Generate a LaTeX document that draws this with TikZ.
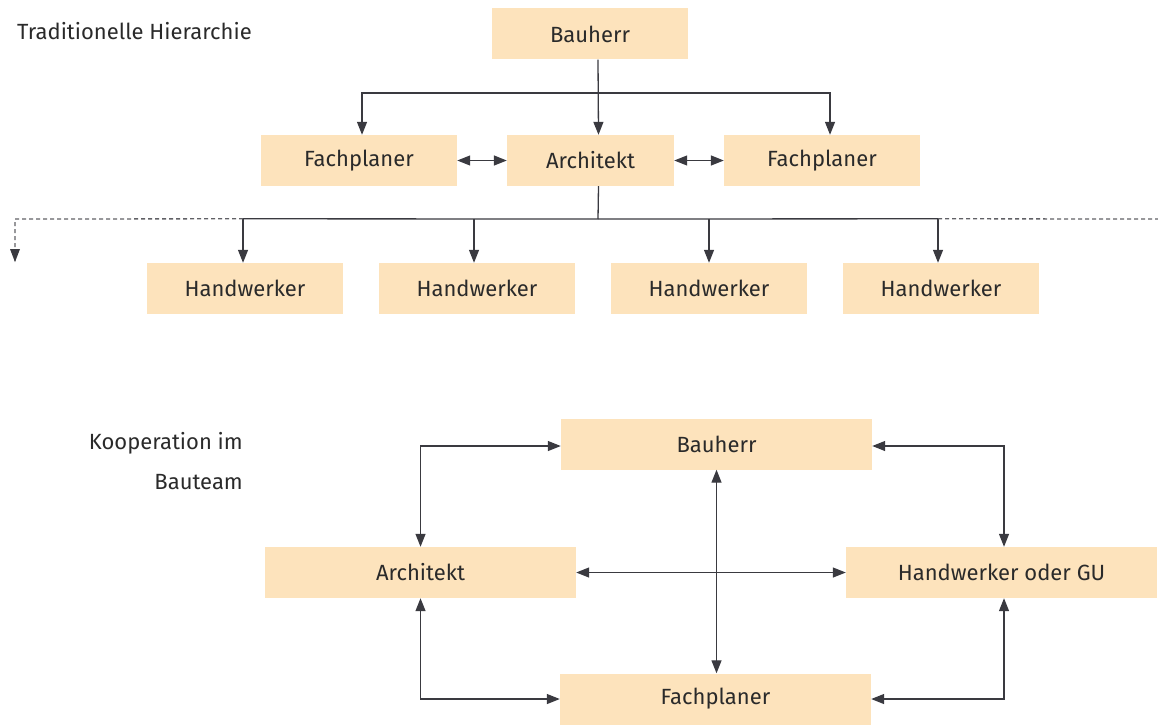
\documentclass[tikz,border=0pt]{standalone}
\usepackage{fontspec}
\setmainfont{Fira Sans}
\usetikzlibrary{arrows.meta,calc}
\definecolor{boxfill}{HTML}{FDE3BC}
\definecolor{linec}{HTML}{3A3A40}
\definecolor{txt}{HTML}{2A2A2A}
\tikzset{
  tip/.tip={Triangle[length=13pt,width=10pt]},
  box/.style={fill=boxfill,draw=none,minimum width=196pt,minimum height=51pt,inner sep=0pt,text=txt,font=\fontsize{22}{26}\selectfont},
  wbox/.style={box,minimum width=311pt},
  conn/.style={draw=linec,line width=1.3pt,-tip},
  dconn/.style={draw=linec,line width=1.3pt,tip-tip},
  plain/.style={draw=linec,line width=1.3pt},
  dashline/.style={draw=linec!80,line width=1.3pt,dash pattern=on 4pt off 3pt},
  lbl/.style={text=txt,font=\fontsize{22}{26}\selectfont,inner sep=0pt}
}
\begin{document}
\begin{tikzpicture}[x=1pt,y=-1pt]
\useasboundingbox (0,0) rectangle (1158,725);
% ---- traditional hierarchy
\node[lbl,anchor=west] (t1) at (17,31) {Traditionelle Hierarchie};
\node[box] (bh) at (590,34) {Bauherr};
\node[box,minimum width=167pt] (ar) at (590.5,160.5) {Architekt};
\node[box] (fl) at (359,160.5) {Fachplaner};
\node[box] (fr) at (822,160.5) {Fachplaner};
\node[box] (h1) at (245,288.5) {Handwerker};
\node[box] (h2) at (477,288.5) {Handwerker};
\node[box] (h3) at (709,288.5) {Handwerker};
\node[box] (h4) at (941,288.5) {Handwerker};
\coordinate (top) at (598,93);
\coordinate (bus) at (598,219);
\coordinate (dl) at (15,219);
\coordinate (dr) at (1158,219);
\draw[conn] ([xshift=8pt]bh.south) -- ([xshift=8pt]ar.north);
\draw[conn] (top) -| ([xshift=3pt]fl.north);
\draw[conn] (top) -| ([xshift=8pt]fr.north);
\draw[dconn] (fl.east) -- (ar.west);
\draw[dconn] (ar.east) -- (fr.west);
\draw[plain] ([xshift=8pt]ar.south) -- (bus);
\draw[plain] (bus) -- ($(h1.north)+(-2,-44)$);
\draw[plain] (bus) -- ($(h4.north)+(-3,-44)$);
\draw[conn] ($(h1.north)+(-2,-44)$) -- ([xshift=-2pt]h1.north);
\draw[conn] ($(h2.north)+(-3,-44)$) -- ([xshift=-3pt]h2.north);
\draw[conn] ($(h3.north)+(0,-44)$) -- (h3.north);
\draw[conn] ($(h4.north)+(-3,-44)$) -- ([xshift=-3pt]h4.north);
\coordinate (dlend) at (15,262);
\draw[dashline] ($(h1.north)+(-2,-44)$) -- (dl) -- (dlend);
\fill[linec] (dlend) -- ++(-5,-13) -- ++(10,0) -- cycle;
\draw[dashline] ($(h4.north)+(-3,-44)$) -- (dr);
% ---- cooperation
\node[lbl,anchor=east] (k1) at (243,443) {Kooperation im};
\node[lbl,anchor=east] (k2) at (243,482) {Bauteam};
\node[wbox] (b2) at (716.5,444) {Bauherr};
\node[wbox] (a2) at (420.5,572.5) {Architekt};
\node[wbox] (g2) at (1001.5,572.5) {Handwerker oder GU};
\node[wbox] (f2) at (715.5,699) {Fachplaner};
\draw[dconn] (a2.north) |- ([yshift=-2pt]b2.west);
\draw[dconn] ([yshift=-2pt]b2.east) -| ([xshift=2.5pt]g2.north);
\draw[dconn] (a2.east) -- (g2.west);
\draw[dconn] (b2.south) -- (b2.south |- f2.north);
\draw[dconn] (a2.south) |- (f2.west);
\draw[dconn] ([xshift=2.5pt]g2.south) |- (f2.east);
\end{tikzpicture}
\end{document}
